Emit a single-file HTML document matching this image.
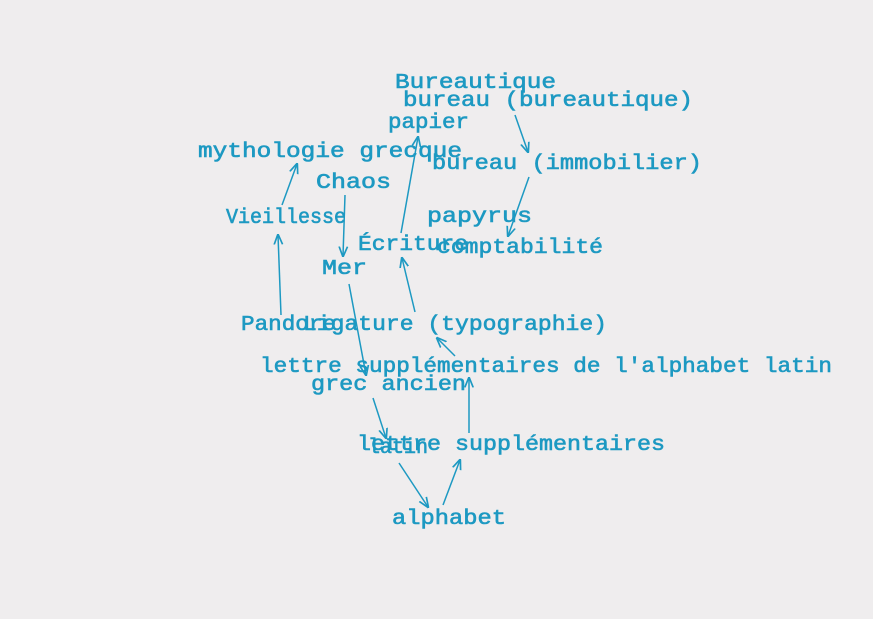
<!DOCTYPE html>
<html><head><meta charset="utf-8"><style>
html,body{margin:0;padding:0;background:#efedee;}
svg{display:block;}
text{font-family:"Liberation Mono",monospace;font-weight:normal;fill:#1d99c2;stroke:#1d99c2;stroke-width:0.6;font-size:21px;}
line{stroke:#1d99c2;stroke-width:1.5;}
</style></head><body>
<svg width="873" height="619" viewBox="0 0 873 619">
<defs><marker id="ah" viewBox="0 0 10 10" refX="9" refY="5" markerWidth="7" markerHeight="7" orient="auto"><path d="M0,1 L10,5 L0,9" fill="none" stroke="#1d99c2" stroke-width="1.6"/></marker></defs>
<g id="edges"></g>
<g id="nodes"></g>
</svg>
<script>
const labels=["Bureautique","bureau (bureautique)","papier","mythologie grecque","bureau (immobilier)","Chaos","Vieillesse","papyrus","Écriture","comptabilité","Mer","Pandore","Ligature (typographie)","lettre supplémentaires de l'alphabet latin","grec ancien","lettre supplémentaires","latin","alphabet"];
const lx=[395,403,388,198,432,316,226,427,358,437,322,241,303,260,311,357,368,392];
const rx=[556,693,469,462,702,391,346,532,468,603,367,336,607,832,466,665,428,506];
const by=[88,106,128,157,169,188,223,222,250,253,274,330,330,372,390,450,453,524];
const edges=[[515,115,528,152],[529,177,508,236],[401,233,418,137],[345,195,343,256],[282,205,297,164],[281,315,278,235],[349,284,366,375],[373,398,386,438],[415,312,402,258],[455,356,437,338],[469,433,469,378],[399,463,428,507],[443,505,460,460]];
const svgNS="http://www.w3.org/2000/svg";
const ng=document.getElementById('nodes'),eg=document.getElementById('edges');
labels.forEach((s,i)=>{const t=document.createElementNS(svgNS,'text');
t.setAttribute('x',lx[i]);t.setAttribute('y',by[i]);
t.setAttribute('textLength',rx[i]-lx[i]);t.setAttribute('lengthAdjust','spacingAndGlyphs');
t.textContent=s;


ng.appendChild(t);});
edges.forEach(e=>{const l=document.createElementNS(svgNS,'line');
l.setAttribute('x1',e[0]);l.setAttribute('y1',e[1]);l.setAttribute('x2',e[2]);l.setAttribute('y2',e[3]);
l.setAttribute('marker-end','url(#ah)');


eg.appendChild(l);});
</script>
</body></html>
